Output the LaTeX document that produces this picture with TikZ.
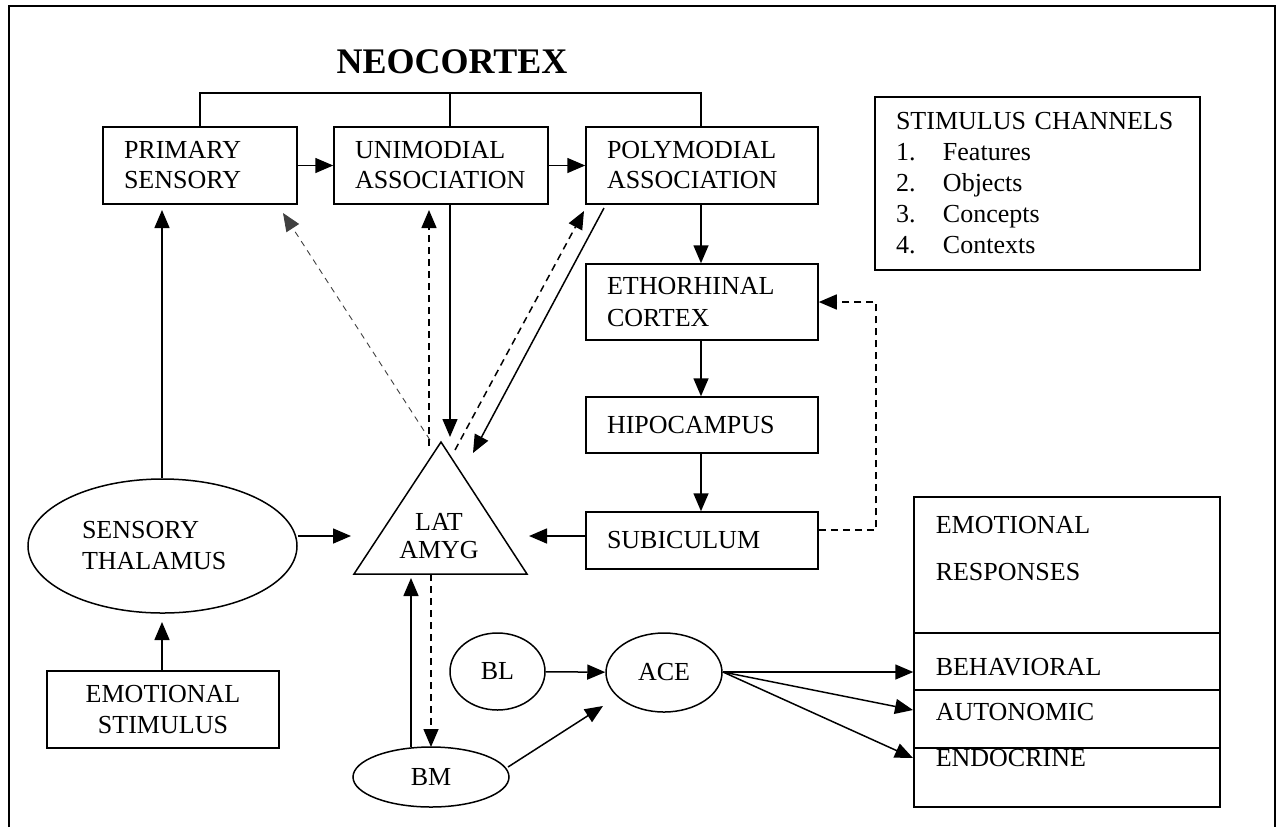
\documentclass[tikz,border=0pt]{standalone}
\usepackage{fontspec}
\setmainfont{Liberation Serif}
\usetikzlibrary{arrows.meta,shapes.geometric}
\begin{document}
\begin{tikzpicture}[x=0.5pt,y=-0.5pt,line width=0.75pt,
  every node/.style={font=\fontsize{13}{15}\selectfont},
  arr/.style={-{Triangle[length=9pt,width=7.5pt]}},
  dsh/.style={dash pattern=on 3.5pt off 2.5pt},
  fine/.style={line width=0.45pt,black!75,dash pattern=on 3pt off 2.5pt},
  box/.style={draw,rectangle,inner xsep=10.5pt,inner ysep=0pt,align=left},
  oval/.style={draw,ellipse,inner sep=0pt,align=center},
  lbl/.style={inner sep=0pt,anchor=west,align=left}]
\useasboundingbox (0,0) rectangle (1280,827);

% outer frame
\draw (9,827) -- (9,6) -- (1275,6) -- (1275,827);

% title
\node[font=\fontsize{18}{20}\selectfont\bfseries] (neo) at (452,62) {NEOCORTEX};

% neocortex chain
\node[box,text width=76pt,minimum height=38.5pt] (prim) at (200,165.5) {PRIMARY\\SENSORY};
\node[box,text width=86pt,minimum height=38.5pt] (uni) at (441,165.5) {UNIMODIAL\\ASSOCIATION};
\node[box,text width=95pt,minimum height=38.5pt] (poly) at (702,165.5) {POLYMODIAL\\ASSOCIATION};
\node[box,text width=95pt,minimum height=38pt,font=\fontsize{13}{16}\selectfont] (etho) at (702,302) {ETHORHINAL\\CORTEX};
\node[box,text width=95pt,minimum height=28pt] (hippo) at (702,425) {HIPOCAMPUS};
\node[box,text width=95pt,minimum height=28.5pt] (sub) at (702,540.5) {SUBICULUM};

% legend
\node[box,text width=141.5pt,minimum height=86.5pt,font=\fontsize{13}{15.5}\selectfont] (legend) at (1037.5,183.5)
  {STIMULUS CHANNELS\\
   \makebox[23.5pt][l]{1.}Features\\
   \makebox[23.5pt][l]{2.}Objects\\
   \makebox[23.5pt][l]{3.}Concepts\\
   \makebox[23.5pt][l]{4.}Contexts};

% thalamus and stimulus
\node[oval,minimum width=134.5pt,minimum height=67pt,align=left,text width=80.5pt,font=\fontsize{13}{15.5}\selectfont] (thal) at (162.5,546) {SENSORY\\THALAMUS};
\node[box,align=center,text width=95pt,minimum height=38.5pt,font=\fontsize{13}{15.5}\selectfont] (emostim) at (163,709.5) {EMOTIONAL\\STIMULUS};

% lateral amygdala
\coordinate (latA) at (441,442);
\coordinate (latBL) at (354,574);
\coordinate (latBR) at (527,574);
\draw (latA) -- (latBL) -- (latBR) -- cycle;
\node[align=center,inner sep=0pt,font=\fontsize{13}{14}\selectfont] (lat) at (439,536) {LAT\\AMYG};

% amygdala nuclei
\node[oval,minimum width=47.5pt,minimum height=38.5pt] (bl) at (497.5,671.5) {BL};
\node[oval,minimum width=58pt,minimum height=39.5pt] (ace) at (664,672.5) {ACE};
\node[oval,minimum width=78pt,minimum height=30pt] (bm) at (431,777) {\raisebox{-1.5pt}{BM}};

% emotional responses
\node[draw,rectangle,minimum width=153pt,minimum height=68pt,inner sep=0pt] (resp) at (1067,565) {};
\node[draw,rectangle,minimum width=153pt,minimum height=28.5pt,inner sep=0pt] (beh) at (1067,661.5) {};
\node[draw,rectangle,minimum width=153pt,minimum height=29pt,inner sep=0pt] (auto) at (1067,719) {};
\node[draw,rectangle,minimum width=153pt,minimum height=29.5pt,inner sep=0pt] (endo) at (1067,777.5) {};
\node[lbl,font=\fontsize{13}{23.5}\selectfont] (resptxt) at (935,548.5) {EMOTIONAL\\RESPONSES};
\node[lbl] (behtxt) at (935,667) {BEHAVIORAL};
\node[lbl] (autotxt) at (935,712) {AUTONOMIC};
\node[lbl] (endotxt) at (935,758) {ENDOCRINE};

% neocortex bracket
\coordinate (bL) at (200,93);
\coordinate (bM) at (450,93);
\coordinate (bR) at (701,93);
\draw (prim.north) -- (bL) -- (bR) -- (bR |- poly.north);
\draw (bM) -- (bM |- uni.north);

% cortical flow
\draw[arr] (prim) -- (uni);
\draw[arr] (uni) -- (poly);
\draw[arr] (bR |- poly.south) -- (bR |- etho.north);
\draw[arr] (bR |- etho.south) -- (bR |- hippo.north);
\draw[arr] (bR |- hippo.south) -- (bR |- sub.north);

% subiculum back-projection to ethorhinal cortex
\coordinate (loopB) at (876,530);
\coordinate (loopT) at (876,302);
\draw[arr,dsh] (sub.east |- loopB) -- (loopB) -- (loopT) -- (etho.east |- loopT);

% inputs to the lateral amygdala
\coordinate (latInL) at (351,536);
\coordinate (latInR) at (529,536);
\draw[arr] (thal.east |- latInL) -- (latInL);
\draw[arr] (sub.west |- latInR) -- (latInR);
\coordinate (thalB) at (162,622);
\coordinate (primB) at (162,210);
\draw[arr] (emostim.north -| thalB) -- (thalB);
\draw[arr] (thal.north -| primB) -- (primB);

% lateral amygdala <-> neocortex
\coordinate (toPrim) at (283,213);
\coordinate (fromLat1) at (430,440);
\draw[arr,fine] (fromLat1) -- (toPrim);
\coordinate (toUni) at (429,210);
\coordinate (fromLat2) at (429,446);
\draw[arr,dsh] (fromLat2) -- (toUni);
\coordinate (uniIn) at (450,437);
\draw[arr] (bM |- uni.south) -- (uniIn);
\coordinate (toPoly) at (584,211);
\coordinate (fromLat3) at (455,450);
\draw[arr,dsh] (fromLat3) -- (toPoly);
\coordinate (polyOut) at (604,208);
\coordinate (polyIn) at (473,453);
\draw[arr] (polyOut) -- (polyIn);

% lateral amygdala <-> basomedial
\coordinate (bmTop) at (411,747);
\coordinate (bmUp) at (411,578);
\draw[arr] (bmTop) -- (bmUp);
\coordinate (bmIn) at (431,747);
\draw[arr,dsh] (bmIn |- latBL) -- (bmIn);

% central nucleus
\draw[arr] (bl) -- (ace);
\coordinate (bmOut) at (508,767);
\coordinate (aceIn) at (603,706);
\draw[arr] (bmOut) -- (aceIn);

% outputs
\coordinate (aceR) at (723,672);
\coordinate (autoIn) at (913,710);
\coordinate (endoIn) at (913,758);
\draw[arr] (aceR) -- (beh.west |- aceR);
\draw[arr] (aceR) -- (autoIn);
\draw[arr] (aceR) -- (endoIn);
\end{tikzpicture}
\end{document}
